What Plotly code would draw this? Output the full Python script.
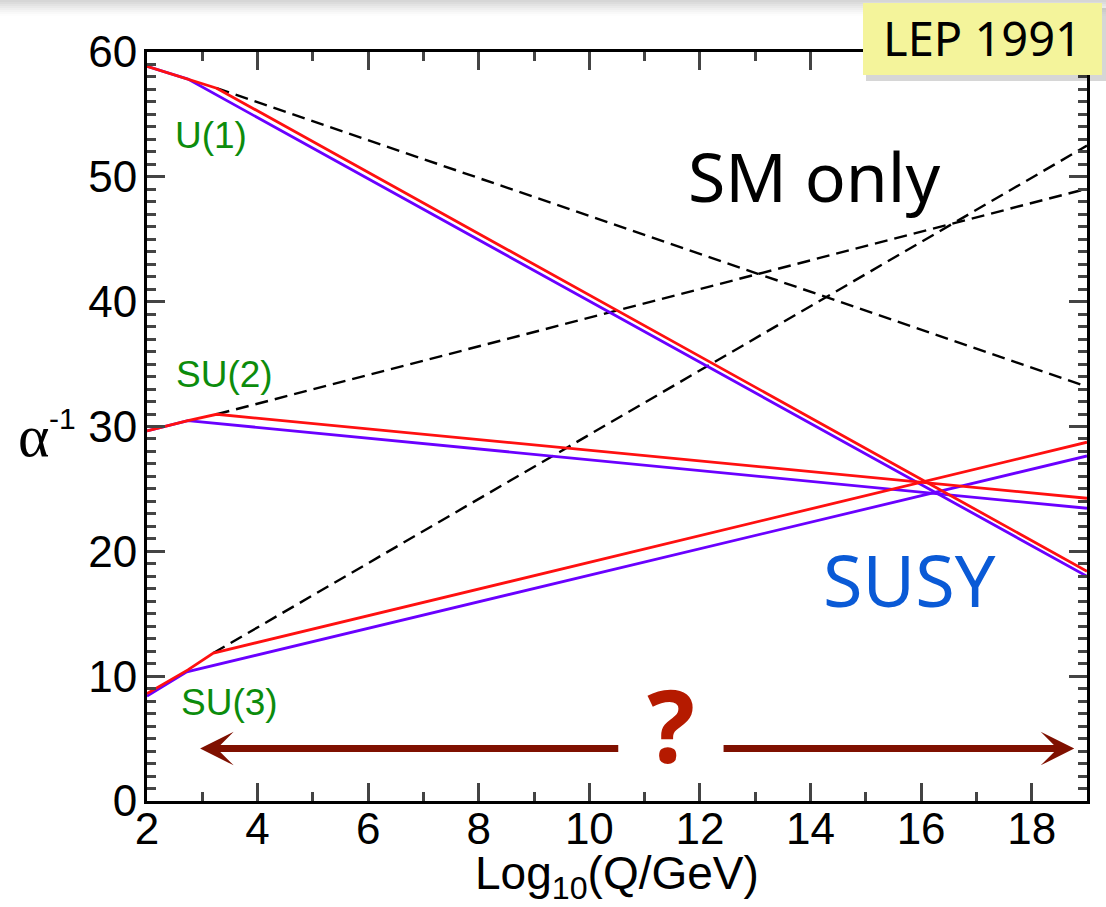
import plotly.graph_objects as go

# ---- data ----
x_u1_susy = [2.0, 2.74, 19.0]
y_u1_susy = [58.85, 57.83, 18.0]
x_u1_red = [2.0, 2.74, 3.26, 19.0]
y_u1_red = [58.85, 57.83, 57.1, 18.4]
x_u1_sm = [3.26, 19.0]
y_u1_sm = [57.1, 33.2]

x_su2_susy = [2.0, 2.74, 19.0]
y_su2_susy = [29.65, 30.47, 23.45]
x_su2_red = [2.0, 2.74, 3.26, 19.0]
y_su2_red = [29.65, 30.47, 30.98, 24.25]
x_su2_sm = [3.26, 19.0]
y_su2_sm = [30.98, 49.05]

x_su3_susy = [2.0, 2.72, 19.0]
y_su3_susy = [8.4, 10.35, 27.64]
x_su3_red = [2.0, 2.74, 3.2, 19.0]
y_su3_red = [8.6, 10.5, 11.85, 28.74]
x_su3_sm = [3.2, 19.0]
y_su3_sm = [11.85, 52.5]

x_ticks = [2, 4, 6, 8, 10, 12, 14, 16, 18]
y_ticks = [0, 10, 20, 30, 40, 50, 60]

PURPLE = "#6a00ff"
RED = "#ff1010"
GREEN = "#0c8c0c"
DARKRED = "#7f1000"

fig = go.Figure()
for xs, ys in [(x_u1_sm, y_u1_sm), (x_su2_sm, y_su2_sm), (x_su3_sm, y_su3_sm)]:
    fig.add_trace(go.Scatter(x=xs, y=ys, mode="lines",
                             line=dict(color="black", width=2.4, dash="13px,7px")))
for xs, ys in [(x_u1_susy, y_u1_susy), (x_su2_susy, y_su2_susy), (x_su3_susy, y_su3_susy)]:
    fig.add_trace(go.Scatter(x=xs, y=ys, mode="lines", line=dict(color=PURPLE, width=2.8)))
for xs, ys in [(x_u1_red, y_u1_red), (x_su2_red, y_su2_red), (x_su3_red, y_su3_red)]:
    fig.add_trace(go.Scatter(x=xs, y=ys, mode="lines", line=dict(color=RED, width=2.8)))

tickfont = dict(family="Liberation Sans, Arial", size=44, color="black")
fig.update_xaxes(range=[2, 19], tickvals=x_ticks, ticks="inside", ticklen=18, tickwidth=2.5,
                 showline=True, linewidth=3, linecolor="black", mirror="allticks",
                 showgrid=False, zeroline=False, tickfont=tickfont, ticklabelstandoff=-13,
                 minor=dict(dtick=1, ticks="inside", ticklen=9, tickwidth=2.5, showgrid=False))
fig.update_yaxes(range=[0, 60], tickvals=y_ticks, ticks="inside", ticklen=18, tickwidth=2.5,
                 showline=True, linewidth=3, linecolor="black", mirror="allticks",
                 showgrid=False, zeroline=False, tickfont=tickfont, ticklabelstandoff=-2,
                 minor=dict(dtick=1, ticks="inside", ticklen=9, tickwidth=2.5, showgrid=False))

L, R, T, B, W, H = 147, 19, 52, 106, 1106, 907
PW, PH = W - L - R, H - T - B
def px(xp):
    return (xp - L) / PW
def py(yp):
    return (H - B - yp) / PH

shapes = []
# top shadow gradient
greys = ["#d6d6d6", "#dcdcdc", "#e3e3e3", "#e9e9e9", "#efefef", "#f4f4f4", "#f9f9f9", "#fdfdfd"]
for i, g in enumerate(greys):
    shapes.append(dict(type="rect", xref="paper", yref="paper", x0=px(0), x1=px(W),
                       y0=py(i * 2 + 2), y1=py(i * 2), fillcolor=g, line=dict(width=0), layer="above"))
# LEP box shadow and box
shapes.append(dict(type="rect", xref="paper", yref="paper", x0=px(866), x1=px(1106),
                   y0=py(81), y1=py(8), fillcolor="rgba(0,0,0,0.16)", line=dict(width=0), layer="above"))
shapes.append(dict(type="rect", xref="paper", yref="paper", x0=px(863), x1=px(1102),
                   y0=py(75), y1=py(3), fillcolor="#f4f49b", line=dict(width=0), layer="above"))

C = dict(xanchor="center", yanchor="middle", showarrow=False)
ann = []
lab = dict(family="Liberation Sans, Arial", size=37, color=GREEN)
ann.append(dict(x=3.155, y=53.3, text="U(1)", font=lab, **C))
ann.append(dict(x=3.41, y=34.2, text="SU(2)", font=lab, **C))
ann.append(dict(x=3.5, y=7.93, text="SU(3)", font=lab, **C))
ann.append(dict(x=14.07, y=50.1, text="SM only",
                font=dict(family="Noto Sans", size=68, color="black"), **C))
ann.append(dict(x=15.79, y=17.8, text="SUSY",
                font=dict(family="Noto Sans", size=72, color="#0a5ad6"), **C))
ann.append(dict(x=11.48, y=6.15, text="<b>?</b>",
                font=dict(family="Noto Sans", size=100, color="#b51a00"), **C))
# arrows
ann.append(dict(x=2.96, y=4.2, ax=10.55, ay=4.2, xref="x", yref="y", axref="x", ayref="y",
                text="", showarrow=True, arrowhead=3, arrowsize=0.8, arrowwidth=7,
                arrowcolor=DARKRED, standoff=0))
ann.append(dict(x=18.77, y=4.2, ax=12.4, ay=4.2, xref="x", yref="y", axref="x", ayref="y",
                text="", showarrow=True, arrowhead=3, arrowsize=0.8, arrowwidth=7,
                arrowcolor=DARKRED, standoff=0))
# LEP 1991 label
ann.append(dict(xref="paper", yref="paper", x=px(982), y=py(38), text="LEP 1991",
                font=dict(family="Noto Sans", size=47, color="black"), **C))
# axis titles
ann.append(dict(xref="paper", yref="paper", x=0.5, y=py(877), text="Log<sub>10</sub>(Q/GeV)",
                font=dict(family="Liberation Sans, Arial", size=46, color="black"), **C))
ann.append(dict(xref="paper", yref="paper", x=px(33), y=py(436), text="α",
                font=dict(family="Liberation Serif, Times New Roman", size=60, color="black"), **C))
ann.append(dict(xref="paper", yref="paper", x=px(62), y=py(418), text="-1",
                font=dict(family="Liberation Sans, Arial", size=30, color="black"), **C))

fig.update_layout(width=W, height=H, margin=dict(l=L, r=R, t=T, b=B, pad=0),
                  plot_bgcolor="white", paper_bgcolor="white", showlegend=False,
                  shapes=shapes, annotations=ann)
fig.write_html("out.html")
